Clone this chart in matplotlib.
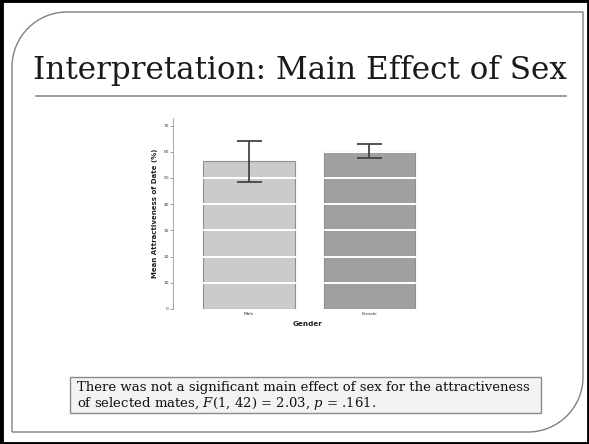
import matplotlib
matplotlib.use("Agg")
import matplotlib.pyplot as plt
from matplotlib.patches import Rectangle, PathPatch
from matplotlib.path import Path
import numpy as np

plt.rcParams["mathtext.fontset"] = "dejavuserif"

categories = ["Male", "Female"]
means = [56.4, 60.2]
errors = [7.8, 2.7]
yticks = [0, 10, 20, 30, 40, 50, 60, 70]
bar_colors = ["#cbcbcb", "#a0a0a0"]

W, H = 589, 444
fig = plt.figure(figsize=(W / 100, H / 100), dpi=100)
fig.patch.set_facecolor("white")

def px(x, y):
    return x / W, 1 - y / H

# outer black border
fig.add_artist(Rectangle((0.5 / W, 0.5 / H), 1 - 1 / W, 1 - 1 / H, transform=fig.transFigure,
                         fill=False, edgecolor="black", linewidth=3.5))

# inner slide frame with rounded top-left and bottom-right corners
L, T, R, B, r = 12, 12, 583, 432, 55
k = 0.5523
verts = [
    (L, T + r), (L, T + r - r * k), (L + r - r * k, T), (L + r, T),
    (R, T),
    (R, B - r),
    (R, B - r + r * k), (R - r + r * k, B), (R - r, B),
    (L, B),
    (L, T + r),
]
codes = [Path.MOVETO, Path.CURVE4, Path.CURVE4, Path.CURVE4, Path.LINETO, Path.LINETO,
         Path.CURVE4, Path.CURVE4, Path.CURVE4, Path.LINETO, Path.LINETO]
verts_f = [(x / W, 1 - y / H) for x, y in verts]
fig.add_artist(PathPatch(Path(verts_f, codes), transform=fig.transFigure, fill=False,
                         edgecolor="#808080", linewidth=1.0))

# title
fig.text(*px(300, 70), "Interpretation: Main Effect of Sex", ha="center", va="center",
         fontsize=22.3, family="DejaVu Serif", color="#1a1a1a")
fig.add_artist(plt.Line2D([36 / W, 566 / W], [1 - 96 / H, 1 - 96 / H], transform=fig.transFigure,
                          color="#8a8a8a", linewidth=1.2))

# chart axes
ax_l, ax_r, ax_b, ymax = 173, 444, 309, 73.0
ppu = 2.62
ax_t = ax_b - ymax * ppu
ax = fig.add_axes([ax_l / W, 1 - ax_b / H, (ax_r - ax_l) / W, (ax_b - ax_t) / H])
ax.set_facecolor("white")
x = np.arange(len(categories))
ax.bar(x, means, width=0.76, color=bar_colors, edgecolor="#8f8f8f", linewidth=0.8, zorder=2)
for t in yticks[1:]:
    ax.axhline(t, color="white", linewidth=1.4, zorder=2.5)
ax.errorbar(x, means, yerr=errors, fmt="none", ecolor="#444444", elinewidth=1.3,
            capsize=9, capthick=1.3, zorder=3)
ax.set_xlim(-0.63, 1.62)
ax.set_ylim(0, ymax)
ax.set_yticks(yticks)
ax.set_yticklabels([str(t) for t in yticks], fontsize=3.2, color="#333333")
ax.set_xticks(x)
ax.set_xticklabels(categories, fontsize=3.2, color="#333333")
ax.tick_params(axis="y", length=2, width=0.5, color="#777777", pad=1)
ax.tick_params(axis="x", length=0, pad=2)
for s in ["top", "right", "bottom"]:
    ax.spines[s].set_visible(False)
ax.spines["left"].set_linestyle((0, (1, 1)))
ax.spines["left"].set_color("#999999")
ax.spines["left"].set_linewidth(0.6)
ax.set_ylabel("Mean Attractiveness of Date (%)", fontsize=5, fontweight="bold", labelpad=4,
              color="#222222")
fig.text(*px(308, 324), "Gender", ha="center", va="center", fontsize=5.2, fontweight="bold",
         color="#222222")

# text box
fig.add_artist(Rectangle((70 / W, 1 - 413 / H), (541 - 70) / W, (413 - 377) / H,
                         transform=fig.transFigure, facecolor="#f3f3f3", edgecolor="#8a8a8a",
                         linewidth=1.0))
fig.text(*px(77, 387), "There was not a significant main effect of sex for the attractiveness",
         ha="left", va="center", fontsize=9.5, family="DejaVu Serif", color="#111111")
fig.text(*px(77, 403), r"of selected mates, $F$(1, 42) = 2.03, $p$ = .161.",
         ha="left", va="center", fontsize=9.5, family="DejaVu Serif", color="#111111")

fig.savefig("out.png", dpi=100)
